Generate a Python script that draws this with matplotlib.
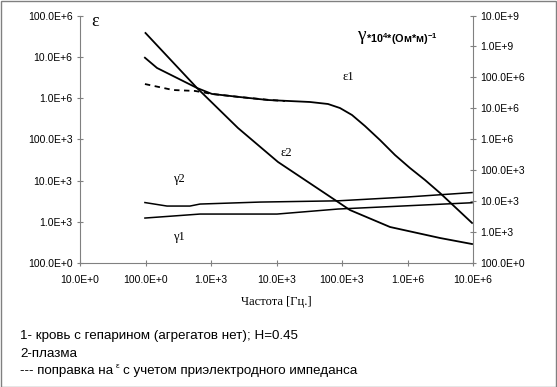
import matplotlib
matplotlib.use("Agg")
import matplotlib.pyplot as plt
from matplotlib.ticker import FixedLocator, FuncFormatter, NullLocator
import math

# ---- data ----
eps2_f = [100, 611, 2580, 10540, 86900, 132000, 541000, 3.13e6, 9.66e6]
eps2_v = [3.77e7, 1.76e6, 1.89e5, 2.84e4, 3050, 1950, 757, 410, 293]

eps1_f = [98, 150, 611, 1035, 2770, 7420, 32400, 61100, 93100, 142000,
          224000, 380000, 644000, 1.09e6, 1.85e6, 3.13e6, 9.66e6]
eps1_v = [9.5e6, 5.36e6, 1.76e6, 1.26e6, 1.06e6, 8.99e5, 8.05e5, 7.2e5,
          5.75e5, 3.9e5, 2.11e5, 9.66e4, 4.19e4, 2.03e4, 1.04e4, 5050, 949]

epsc_f = [98, 263, 570, 1035, 2770, 7960, 13500]
epsc_v = [2.19e6, 1.57e6, 1.49e6, 1.26e6, 1.06e6, 8.99e5, 8.51e5]

gam2_f = [98, 213, 477, 679, 5600, 86900, 982000, 9.66e6]
gam2_v = [9140, 7050, 7050, 8180, 9480, 10400, 13800, 19200]

gam1_f = [98, 263, 679, 10200, 86900, 9.66e6]
gam1_v = [2890, 3360, 3890, 3890, 5650, 9020]

x_ticks = [10, 100, 1e3, 1e4, 1e5, 1e6, 1e7]
left_ticks = [1e2, 1e3, 1e4, 1e5, 1e6, 1e7, 1e8]
right_ticks = [1e2, 1e3, 1e4, 1e5, 1e6, 1e7, 1e8, 1e9, 1e10]

footnotes = ["1- кровь с гепарином (агрегатов нет); H=0.45",
             "2-плазма"]


def eng(v, pos=None):
    e = int(round(math.log10(v)))
    p = (e // 3) * 3
    m = 10 ** (e - p)
    return f"{m:.1f}E+{p}"


plt.rcParams['font.family'] = ['Liberation Sans', 'DejaVu Sans']
plt.rcParams['mathtext.fontset'] = 'custom'
plt.rcParams['mathtext.rm'] = 'Liberation Sans'
plt.rcParams['mathtext.bf'] = 'Liberation Sans:bold'
serif = ['Liberation Serif', 'DejaVu Serif']

fig = plt.figure(figsize=(5.57, 3.87), dpi=100)
W, H = 557, 387
x0, x1, ytop, ybot = 80, 473, 15.5, 263.3
ax = fig.add_axes([x0 / W, 1 - ybot / H, (x1 - x0) / W, (ybot - ytop) / H])
ax2 = ax.twinx()

for a in (ax, ax2):
    a.set_xscale('log')
    a.set_yscale('log')
    a.set_xlim(10, 1e7)
    a.spines['top'].set_visible(False)
ax.spines['right'].set_visible(False)
ax2.spines['left'].set_visible(False)
for s in ('left', 'bottom'):
    ax.spines[s].set_color('#808080')
ax2.spines['right'].set_color('#808080')
ax2.spines['bottom'].set_visible(False)

ax.set_ylim(1e2, 1e8)
ax2.set_ylim(1e2, 1e10)

ax.xaxis.set_major_locator(FixedLocator(x_ticks))
ax.xaxis.set_minor_locator(NullLocator())
ax.xaxis.set_major_formatter(FuncFormatter(eng))
ax.yaxis.set_major_locator(FixedLocator(left_ticks))
ax.yaxis.set_minor_locator(NullLocator())
ax.yaxis.set_major_formatter(FuncFormatter(eng))
ax2.yaxis.set_major_locator(FixedLocator(right_ticks))
ax2.yaxis.set_minor_locator(NullLocator())
ax2.yaxis.set_major_formatter(FuncFormatter(eng))

ax.tick_params(axis='x', direction='inout', length=5, color='#808080',
               labelsize=7.5, pad=6)
ax.tick_params(axis='y', direction='inout', length=5, color='#808080',
               labelsize=7.5, pad=3)
ax2.tick_params(axis='y', direction='inout', length=5, color='#808080',
                labelsize=7.5, pad=3)

ax.plot(eps2_f, eps2_v, color='black', lw=1.3)
ax.plot(eps1_f, eps1_v, color='black', lw=1.3)
ax.plot(epsc_f, epsc_v, color='black', lw=1.3, ls=(0, (3, 2.5)))
ax2.plot(gam2_f, gam2_v, color='black', lw=1.1)
ax2.plot(gam1_f, gam1_v, color='black', lw=1.1)

ax.set_xlabel("Частота [Гц.]", family=serif, fontsize=9, labelpad=8)


def ftxt(x, y, s, **kw):
    return fig.text(x / W, 1 - y / H, s, **kw)


ftxt(95, 22, "ε", family=serif, fontsize=13, ha='center', va='center')
ftxt(348, 77, "ε1", family=serif, fontsize=9, ha='center', va='center')
ftxt(286, 153, "ε2", family=serif, fontsize=9, ha='center', va='center')
ftxt(179, 179, "γ2", family=serif, fontsize=9, ha='center', va='center')
ftxt(179, 237, "γ1", family=serif, fontsize=9, ha='center', va='center')
ftxt(357, 36, "γ", family=serif, fontsize=14, ha='left', va='center')
ftxt(366, 39, r"*10$^{\mathbf{4}}$*(Ом*м)$^{\mathbf{-1}}$", fontsize=7.8,
     fontweight='bold', ha='left', va='center')

fs = 9.6
ftxt(20, 336, footnotes[0], fontsize=fs, ha='left', va='center')
ftxt(20, 354, footnotes[1], fontsize=fs, ha='left', va='center')
t1 = ftxt(20, 371, "--- поправка на", fontsize=fs, ha='left', va='center')
fig.canvas.draw()
r = fig.canvas.get_renderer()
bb = t1.get_window_extent(r)
xe = bb.x1 + 3
t2 = fig.text(xe / W, 1 - 367 / H, "ε", fontsize=6, ha='left', va='center')
bb2 = t2.get_window_extent(r)
fig.text((bb2.x1 + 3) / W, 1 - 371 / H, "с учетом приэлектродного импеданса",
         fontsize=fs, ha='left', va='center')

fig.patches.append(plt.Rectangle((0.5 / W, 0.5 / H), 1 - 1.5 / W, 1 - 1.5 / H,
                                 transform=fig.transFigure, fill=False,
                                 edgecolor='#808080', lw=1))

fig.savefig("out.png", dpi=100)
